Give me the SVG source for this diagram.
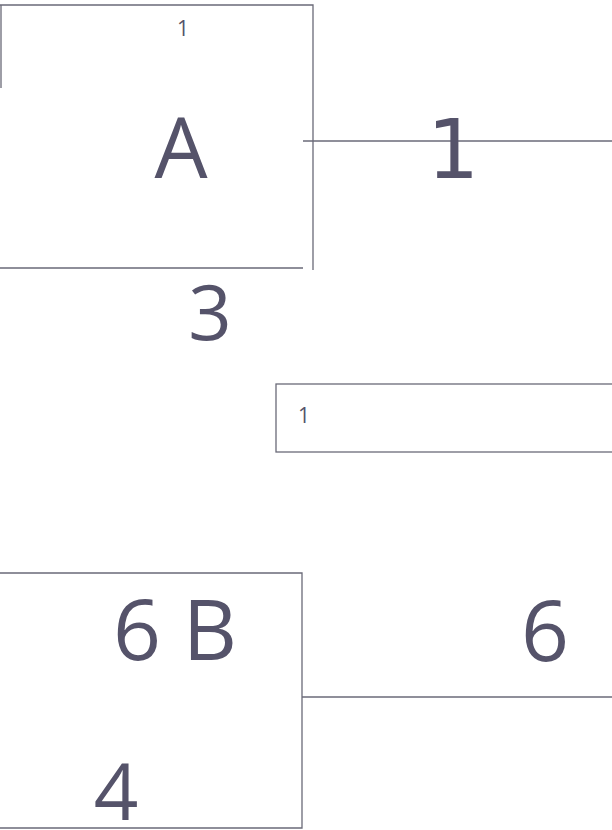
<svg xmlns="http://www.w3.org/2000/svg" width="612" height="830" viewBox="0 0 612 830">
<style>
.ln{stroke:#6a6a78;stroke-width:1.3;fill:none}
.t{font-family:"Open Sans","Noto Sans",sans-serif;fill:#55536a}
.big{font-size:84px}
.sm{font-size:21px}
</style>
<rect width="612" height="830" fill="#ffffff"/>
<g id="nodeA">
<path class="ln" d="M0,5 H313 V270 M303,268 H0 M1,5 V88"/>
<text class="t sm" x="183" y="36" text-anchor="middle">1</text>
<text class="t big" x="181" y="178" text-anchor="middle">A</text>
</g>
<g id="label3">
<text class="t" font-size="76" x="210" y="340" text-anchor="middle">3</text>
</g>
<g id="node1">
<rect class="ln" x="276" y="384" width="340" height="68"/>
<text class="t sm" x="304" y="423" text-anchor="middle">1</text>
</g>
<g id="nodeB">
<path class="ln" d="M0,573 H302 V828 H0"/>
<text class="t big" x="113" y="660">6 B</text>
<text class="t" font-size="78" x="116" y="820" text-anchor="middle">4</text>
</g>
<g id="connectors">
<line class="ln" x1="303" y1="141" x2="612" y2="141"/>
<line class="ln" x1="302" y1="697" x2="612" y2="697"/>
</g>
<g id="edgeLabels">
<text font-family="'DejaVu Sans',sans-serif" fill="#55536a" font-size="82" x="453" y="178" text-anchor="middle">1</text>
<text class="t big" x="545" y="661" text-anchor="middle">6</text>
</g>
</svg>
